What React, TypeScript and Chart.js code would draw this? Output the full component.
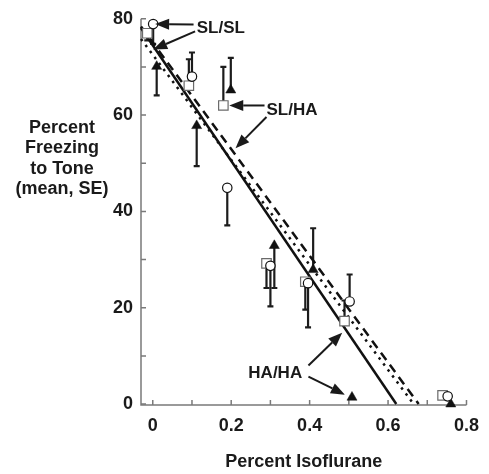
import React, { useEffect, useRef } from 'react';
import { Chart, registerables } from 'chart.js';

Chart.register(...registerables);

const FONT = '"Liberation Sans", Arial, Helvetica, sans-serif';

// SL/SL group (open circles): x, mean, end of SE bar
const slslX = [0.001, 0.1, 0.19, 0.3, 0.396, 0.502, 0.752];
const slslY = [78.9, 68.0, 44.9, 28.7, 25.1, 21.3, 1.6];
const slslErr = [74.8, 73.0, 37.1, 20.3, 15.9, 26.9, 1.6];

// SL/HA group (open squares)
const slhaX = [-0.014, 0.092, 0.18, 0.29, 0.389, 0.489, 0.739];
const slhaY = [77.0, 66.1, 62.0, 29.2, 25.4, 17.2, 1.8];
const slhaErr = [75.5, 71.6, 70.0, 24.1, 19.6, 21.5, 1.8];

// HA/HA group (filled triangles)
const hahaX = [0.01, 0.112, 0.199, 0.31, 0.409, 0.508, 0.76];
const hahaY = [70.1, 57.8, 65.2, 32.9, 27.9, 1.4, 0.0];
const hahaErr = [64.1, 49.4, 71.9, 24.1, 36.5, 1.4, 0.0];

// regression lines (end points)
const hahaFitX = [-0.03, 0.621];
const hahaFitY = [78.1, 0];
const slhaFitX = [-0.03, 0.678];
const slhaFitY = [78.4, 0];
const slslFitX = [-0.03, 0.665];
const slslFitY = [75.8, 0];

// axes
const xMajorTicks = [0, 0.2, 0.4, 0.6, 0.8];
const xMajorLabels = ['0', '0.2', '0.4', '0.6', '0.8'];
const xMinorTicks = [0, 0.1, 0.2, 0.3, 0.4, 0.5, 0.6, 0.7, 0.8];
const yMajorTicks = [0, 20, 40, 60, 80];
const yMajorLabels = ['0', '20', '40', '60', '80'];
const yMinorTicks = [0, 10, 20, 30, 40, 50, 60, 70, 80];

const xTitle = 'Percent Isoflurane';
const yTitleLines = ['Percent', 'Freezing', 'to Tone', '(mean, SE)'];

// annotation labels: text, x, y, alignment
const labelTexts = ['SL/SL', 'SL/HA', 'HA/HA'];
const labelX = [0.112, 0.29, 0.381];
const labelY = [78.1, 61.0, 6.4];
const labelAlign = ['left', 'left', 'right'];

// annotation arrows: from (x1,y1) to head at (x2,y2)
const arrowX1 = [0.104, 0.108, 0.285, 0.29, 0.397, 0.397];
const arrowY1 = [78.8, 77.4, 62.0, 59.6, 8.0, 5.7];
const arrowX2 = [0.006, 0.001, 0.195, 0.211, 0.483, 0.49];
const arrowY2 = [78.9, 73.6, 62.0, 53.1, 14.8, 1.95];

const toPts = (xs: number[], ys: number[]) => xs.map((x, i) => ({ x, y: ys[i] }));

const decorPlugin = {
  id: 'decor',
  beforeDatasetsDraw(chart: any) {
    const { ctx, chartArea } = chart;
    const xs = chart.scales.x;
    const ys = chart.scales.y;
    ctx.save();
    // axes
    ctx.strokeStyle = '#7a7a7a';
    ctx.lineWidth = 1.5;
    ctx.beginPath();
    ctx.moveTo(chartArea.left, chartArea.top);
    ctx.lineTo(chartArea.left, chartArea.bottom);
    ctx.lineTo(chartArea.right, chartArea.bottom);
    ctx.stroke();
    ctx.beginPath();
    xMinorTicks.forEach((v) => {
      const px = xs.getPixelForValue(v);
      ctx.moveTo(px, chartArea.bottom);
      ctx.lineTo(px, chartArea.bottom - 5);
    });
    yMinorTicks.forEach((v) => {
      const py = ys.getPixelForValue(v);
      ctx.moveTo(chartArea.left, py);
      ctx.lineTo(chartArea.left + 5, py);
    });
    ctx.stroke();

    // error bars
    ctx.strokeStyle = '#1c1c1c';
    ctx.lineWidth = 2.2;
    chart.data.datasets.forEach((ds: any) => {
      if (!ds.errEnd) return;
      ds.data.forEach((p: any, i: number) => {
        const e = ds.errEnd[i];
        if (Math.abs(e - p.y) < 0.01) return;
        const px = xs.getPixelForValue(p.x);
        const py = ys.getPixelForValue(p.y);
        const pe = ys.getPixelForValue(e);
        ctx.beginPath();
        ctx.moveTo(px, py);
        ctx.lineTo(px, pe);
        ctx.moveTo(px - 3, pe);
        ctx.lineTo(px + 3, pe);
        ctx.stroke();
      });
    });
    ctx.restore();
  },
  afterDatasetsDraw(chart: any) {
    const { ctx, chartArea } = chart;
    const xs = chart.scales.x;
    const ys = chart.scales.y;
    ctx.save();
    ctx.fillStyle = '#1a1a1a';
    ctx.strokeStyle = '#1a1a1a';
    // arrows
    arrowX1.forEach((_, i) => {
      const x1 = xs.getPixelForValue(arrowX1[i]);
      const y1 = ys.getPixelForValue(arrowY1[i]);
      const x2 = xs.getPixelForValue(arrowX2[i]);
      const y2 = ys.getPixelForValue(arrowY2[i]);
      const ang = Math.atan2(y2 - y1, x2 - x1);
      const hl = 14;
      const hw = 5.5;
      const bx = x2 - hl * Math.cos(ang);
      const by = y2 - hl * Math.sin(ang);
      ctx.lineWidth = 2;
      ctx.beginPath();
      ctx.moveTo(x1, y1);
      ctx.lineTo(bx, by);
      ctx.stroke();
      ctx.beginPath();
      ctx.moveTo(x2, y2);
      ctx.lineTo(bx + hw * Math.sin(ang), by - hw * Math.cos(ang));
      ctx.lineTo(bx - hw * Math.sin(ang), by + hw * Math.cos(ang));
      ctx.closePath();
      ctx.fill();
    });
    // labels
    ctx.font = `bold 17px ${FONT}`;
    ctx.textBaseline = 'middle';
    labelTexts.forEach((t, i) => {
      ctx.textAlign = labelAlign[i] as CanvasTextAlign;
      ctx.fillText(t, xs.getPixelForValue(labelX[i]), ys.getPixelForValue(labelY[i]));
    });
    // axis titles
    ctx.font = `bold 18px ${FONT}`;
    ctx.textAlign = 'center';
    ctx.textBaseline = 'alphabetic';
    ctx.fillText(xTitle, (chartArea.left + chartArea.right) / 2, 467);
    yTitleLines.forEach((t, i) => {
      ctx.fillText(t, 62, 133 + i * 20.4);
    });
    ctx.restore();
  },
};

export default function App() {
  const ref = useRef<HTMLCanvasElement>(null);
  useEffect(() => {
    document.body.style.margin = '0';
    const canvas = ref.current;
    if (!canvas) return;
    const chart = new Chart(canvas, {
      type: 'scatter',
      data: {
        datasets: [
          {
            label: 'SL/SL',
            data: toPts(slslX, slslY),
            errEnd: slslErr,
            pointStyle: 'circle',
            pointRadius: 4.7,
            pointBorderWidth: 1.2,
            pointBorderColor: '#111',
            pointBackgroundColor: '#ffffff',
            clip: false,
          } as any,
          {
            label: 'SL/HA',
            data: toPts(slhaX, slhaY),
            errEnd: slhaErr,
            pointStyle: 'rect',
            pointRadius: 6.7,
            pointBorderWidth: 1.2,
            pointBorderColor: '#6a6a6a',
            pointBackgroundColor: '#ffffff',
            clip: false,
          } as any,
          {
            label: 'HA/HA',
            data: toPts(hahaX, hahaY),
            errEnd: hahaErr,
            pointStyle: 'triangle',
            pointRadius: 5.8,
            pointBorderWidth: 0.5,
            pointBorderColor: '#111',
            pointBackgroundColor: '#111',
            clip: false,
          } as any,
          {
            label: 'HA/HA fit',
            data: toPts(hahaFitX, hahaFitY),
            showLine: true,
            borderColor: '#111',
            borderWidth: 2.5,
            pointRadius: 0,
            clip: false,
          },
          {
            label: 'SL/HA fit',
            data: toPts(slhaFitX, slhaFitY),
            showLine: true,
            borderColor: '#111',
            borderWidth: 2.5,
            borderDash: [9, 6],
            pointRadius: 0,
            clip: false,
          },
          {
            label: 'SL/SL fit',
            data: toPts(slslFitX, slslFitY),
            showLine: true,
            borderColor: '#111',
            borderWidth: 2.5,
            borderDash: [2.5, 5],
            pointRadius: 0,
            clip: false,
          },
        ],
      },
      options: {
        animation: false,
        responsive: false,
        layout: { padding: { left: 0, right: 13, top: 14, bottom: 0 } },
        plugins: { legend: { display: false }, tooltip: { enabled: false } },
        scales: {
          x: {
            type: 'linear',
            min: -0.03,
            max: 0.8,
            grid: { display: false, drawTicks: false },
            border: { display: false },
            afterFit: (s: any) => {
              s.height = 69;
            },
            afterBuildTicks: (s: any) => {
              s.ticks = xMajorTicks.map((v) => ({ value: v }));
            },
            ticks: {
              padding: 10,
              maxRotation: 0,
              autoSkip: false,
              color: '#1a1a1a',
              font: { family: FONT, size: 18, weight: 'bold' },
              callback: (v: any) => {
                const i = xMajorTicks.findIndex((t) => Math.abs(t - v) < 1e-6);
                return i >= 0 ? xMajorLabels[i] : '';
              },
            },
          },
          y: {
            type: 'linear',
            min: -0.2,
            max: 80,
            grid: { display: false, drawTicks: false },
            border: { display: false },
            afterFit: (s: any) => {
              s.width = 141;
            },
            afterBuildTicks: (s: any) => {
              s.ticks = yMajorTicks.map((v) => ({ value: v }));
            },
            ticks: {
              padding: 8,
              autoSkip: false,
              color: '#1a1a1a',
              font: { family: FONT, size: 18, weight: 'bold' },
              callback: (v: any) => {
                const i = yMajorTicks.findIndex((t) => Math.abs(t - v) < 1e-6);
                return i >= 0 ? yMajorLabels[i] : '';
              },
            },
          },
        },
      },
      plugins: [decorPlugin],
    } as any);
    return () => chart.destroy();
  }, []);
  return (
    <div style={{ width: 489, height: 474 }}>
      <canvas ref={ref} width={489} height={474} style={{ display: 'block' }} />
    </div>
  );
}
